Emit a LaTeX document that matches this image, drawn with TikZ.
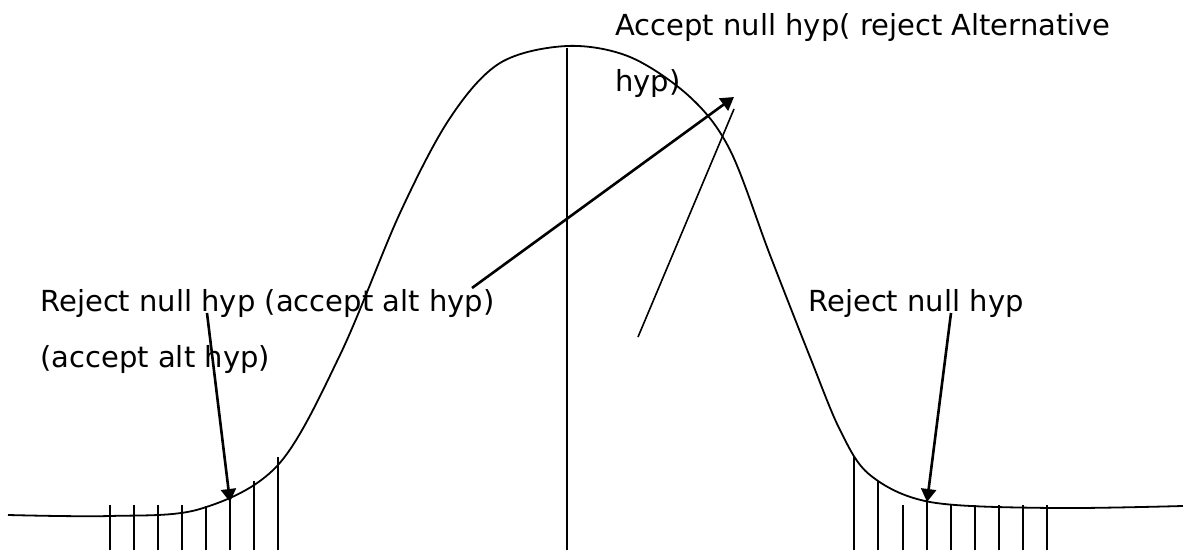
\documentclass[tikz,border=0pt]{standalone}
\usepackage{fontspec}
\setmainfont{DejaVu Sans}
\usepackage{tikz}
\usetikzlibrary{arrows.meta}
\tikzset{
  hylab/.style={anchor=base west, inner sep=0pt, align=left,
                font=\fontsize{14.5}{27.75}\selectfont},
  hyc/.style={line width=0.9pt},
  hyw/.style={line width=0.8pt},
  hyarr/.style={line width=1.3pt, -{Triangle[length=6.5pt,width=7.5pt]}}
}
\begin{document}
\begin{tikzpicture}[x=0.5pt, y=-0.5pt]
  \useasboundingbox (0,0) rectangle (1183,550);
  \draw[hyc] plot[smooth, tension=0.55] coordinates {
    (8,515) (110,516) (200,509) (278,465) (340,355) (400,213) (450,118)
    (500,63) (567,46) (630,57) (690,97) (730,150) (770,255) (810,357)
    (840,430) (870,475) (930,502) (1050,508) (1183,506)};
  \draw[hyw] (567,48) -- (567,550);
  \draw[hyw] (110,505) -- (110,550) (134,505) -- (134,550)
             (158,505) -- (158,550) (182,505) -- (182,550)
             (206,506) -- (206,550) (230,500) -- (230,550)
             (254,481) -- (254,550) (278,457) -- (278,550);
  \draw[hyw] (854,457) -- (854,550) (878,481) -- (878,550)
             (903,505) -- (903,550) (927,500) -- (927,550)
             (951,505) -- (951,550) (975,505) -- (975,550)
             (999,505) -- (999,550) (1023,505) -- (1023,550)
             (1047,505) -- (1047,550);
  \node[hylab] (rejl) at (40,367.5) {Reject null hyp (accept alt hyp)\\(accept alt hyp)};
  \node[hylab] (acc) at (615,91.5) {Accept null hyp( reject Alternative\\hyp)};
  \node[hylab] (rejr) at (808,312) {Reject null hyp};
  \coordinate (rejlfoot) at (207,313);
  \coordinate (rejltip) at (230,502);
  \coordinate (rejrfoot) at (951,313);
  \coordinate (rejrtip) at (927,502);
  \coordinate (accfoot) at (472,288);
  \coordinate (acctip) at (734,97);
  \coordinate (mtop) at (734,109);
  \coordinate (mfoot) at (638,337);
  \draw[hyarr] (rejlfoot) -- (rejltip);
  \draw[hyarr] (rejrfoot) -- (rejrtip);
  \draw[hyarr] (accfoot) -- (acctip);
  \draw[hyw] (mtop) -- (mfoot);
\end{tikzpicture}
\end{document}
